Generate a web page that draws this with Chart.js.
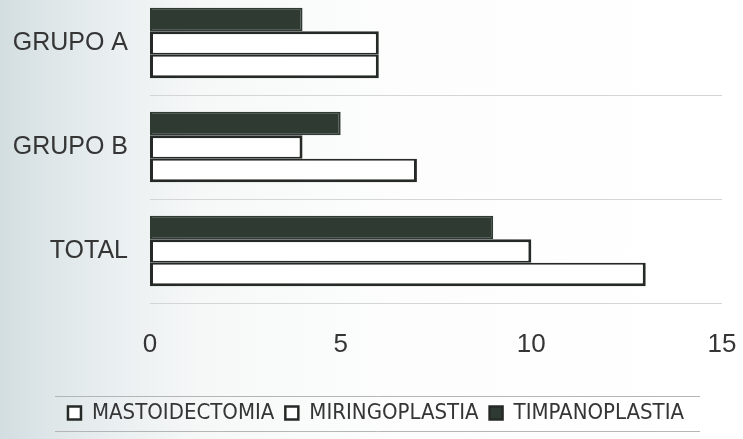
<!DOCTYPE html>
<html><head><meta charset="utf-8">
<script src="https://cdn.jsdelivr.net/npm/chart.js@4"></script>
<style>
html,body{margin:0;padding:0;width:743px;height:439px;overflow:hidden;
background:linear-gradient(to right,#d3dee1 0px,#e6ecee 90px,#f6f8f8 200px,#fdfdfd 400px,#ffffff 743px);}
#wrap{position:absolute;left:0;top:-9px;width:743px;height:448px;}
</style></head><body>
<div id="wrap"><canvas id="c"></canvas></div>
<script>
const categories = ['GRUPO A', 'GRUPO B', 'TOTAL'];
const timpanoplastia = [4, 5, 9];
const miringoplastia = [6, 4, 10];
const mastoidectomia = [6, 7, 13];
const xTicks = [0, 5, 10, 15];
const seriesNames = ['TIMPANOPLASTIA', 'MIRINGOPLASTIA', 'MASTOIDECTOMIA'];

const FONT = '"Liberation Sans", Arial, sans-serif';
const NARROW = '"DejaVu Sans Condensed", "Liberation Sans Narrow", sans-serif';
const TEXT = '#353535';
const EDGE = '#262a27';

const legendFrame = {
  id: 'legendFrame',
  beforeDraw(chart) {
    const lg = chart.legend;
    if (lg) { lg.left = 30; }
  },
  afterDraw(chart) {
    const lg = chart.legend; const ctx = chart.ctx;
    if (!lg) return;
    const mid = (lg.top + lg.bottom) / 2;
    ctx.save();
    ctx.strokeStyle = '#b3b6b5'; ctx.lineWidth = 1;
    ctx.beginPath();
    ctx.moveTo(55, Math.round(mid - 17) + 0.5); ctx.lineTo(700, Math.round(mid - 17) + 0.5);
    ctx.moveTo(55, Math.round(mid + 18) + 0.5); ctx.lineTo(700, Math.round(mid + 18) + 0.5);
    ctx.stroke();
    ctx.restore();
  }
};

new Chart(document.getElementById('c'), {
  type: 'bar',
  data: {
    labels: categories,
    datasets: [
      { label: seriesNames[0], data: timpanoplastia, backgroundColor: '#2f3a33', borderColor: '#2f3a33', borderWidth: 2 },
      { label: seriesNames[1], data: miringoplastia, backgroundColor: '#ffffff', borderColor: EDGE,
        borderWidth: { top: 3, left: 3, right: 3, bottom: 2 } },
      { label: seriesNames[2], data: mastoidectomia, backgroundColor: '#ffffff', borderColor: EDGE,
        borderWidth: { top: 2, left: 3, right: 3, bottom: 3 } }
    ]
  },
  options: {
    indexAxis: 'y',
    responsive: true,
    maintainAspectRatio: false,
    animation: false,
    datasets: { bar: { categoryPercentage: 0.68, barPercentage: 1.0, borderSkipped: false } },
    layout: { padding: { left: 0, right: 21, top: 0, bottom: 5 } },
    scales: {
      x: {
        min: 0, max: 15,
        afterBuildTicks: s => { s.ticks = xTicks.map(v => ({ value: v })); },
        afterFit: s => { s.height = 88; s.paddingLeft = 0; s.paddingRight = 0; },
        grid: { display: false },
        border: { display: false },
        ticks: { font: { family: FONT, size: 26 }, color: TEXT, padding: 18, maxRotation: 0 }
      },
      y: {
        afterFit: s => { s.width = 150; s.paddingTop = 0; s.paddingBottom = 0; },
        grid: { offset: true, color: '#d3d6d5', lineWidth: 1, drawTicks: false },
        border: { display: false },
        ticks: { font: { family: FONT, size: 25 }, color: TEXT, padding: 22 }
      }
    },
    plugins: {
      tooltip: { enabled: false },
      legend: {
        position: 'bottom',
        reverse: true,
        labels: {
          font: { family: NARROW, size: 22 },
          color: TEXT,
          boxWidth: 13, boxHeight: 13, padding: 11,
          generateLabels(chart) {
            const items = Chart.defaults.plugins.legend.labels.generateLabels(chart);
            items.forEach(it => { it.lineWidth = 2.5; it.strokeStyle = EDGE; });
            return items;
          }
        }
      }
    }
  },
  plugins: [legendFrame]
});
</script>
</body></html>
